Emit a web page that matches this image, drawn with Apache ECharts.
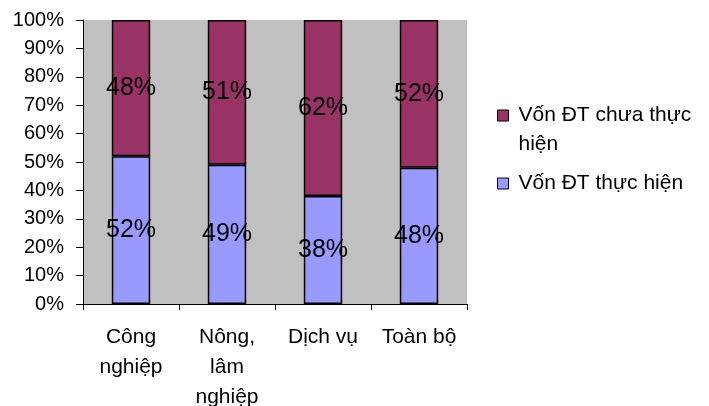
<!DOCTYPE html>
<html>
<head>
<meta charset="utf-8">
<script src="https://cdn.jsdelivr.net/npm/echarts@6/dist/echarts.min.js"></script>
<style>
  html, body { margin: 0; padding: 0; background: #fff; }
  #chart { width: 709px; height: 406px; }
</style>
</head>
<body>
<div id="chart"></div>
<script>
// Sectors and the share of investment capital (%) in each
const categories = ['Công\nnghiệp', 'Nông,\nlâm\nnghiệp', 'Dịch vụ', 'Toàn bộ'];
const implemented = [52, 49, 38, 48];      // Vốn ĐT thực hiện
const notImplemented = [48, 51, 62, 52];   // Vốn ĐT chưa thực hiện
const yTicks = [0, 10, 20, 30, 40, 50, 60, 70, 80, 90, 100];

const FONT = '"Liberation Sans", Arial, sans-serif';

const chart = echarts.init(document.getElementById('chart'), null, { renderer: 'canvas' });

const barLabel = {
  show: true,
  position: 'inside',
  color: '#000',
  fontSize: 25,
  fontFamily: FONT,
  formatter: p => p.value + '%'
};

const legendMarker = { borderColor: '#000', borderWidth: 1 };

chart.setOption({
  animation: false,
  backgroundColor: '#fff',
  grid: {
    left: 83, right: 242, top: 20, bottom: 102,
    outerBoundsMode: 'none',
    containLabel: false,
    show: true, backgroundColor: '#C0C0C0', borderWidth: 0
  },
  legend: {
    orient: 'vertical',
    left: 497,
    top: 72,
    padding: 0,
    itemWidth: 11,
    itemHeight: 11,
    itemGap: 10,
    icon: 'rect',
    textStyle: {
      fontSize: 21, fontFamily: FONT, color: '#000', lineHeight: 29,
      rich: {
        t: { fontSize: 21, fontFamily: FONT, color: '#000', lineHeight: 29, padding: [0, 0, 0, 5] }
      }
    },
    data: [
      { name: 'Vốn ĐT chưa thực hiện', itemStyle: legendMarker },
      { name: 'Vốn ĐT thực hiện', itemStyle: legendMarker }
    ],
    // the long entry wraps; a leading blank line keeps its marker beside the first text line
    formatter: name => name === 'Vốn ĐT chưa thực hiện'
      ? '{t|}\n{t|Vốn ĐT chưa thực}\n{t|hiện}'
      : '{t|' + name + '}'
  },
  xAxis: {
    type: 'category',
    data: categories,
    axisLine: { show: true, lineStyle: { color: '#000', width: 1 } },
    axisTick: { show: true, length: 6, alignWithLabel: false, lineStyle: { color: '#000' } },
    axisLabel: {
      interval: 0, margin: 18,
      fontSize: 21, fontFamily: FONT, color: '#000', lineHeight: 30
    },
    splitLine: { show: false }
  },
  yAxis: {
    type: 'value',
    min: 0, max: 100, interval: 10,
    axisLine: { show: true, lineStyle: { color: '#000', width: 1 } },
    axisTick: { show: true, inside: false, length: 7, lineStyle: { color: '#000' } },
    axisLabel: {
      margin: 19,
      fontSize: 20, fontFamily: FONT, color: '#000',
      formatter: v => (yTicks.indexOf(v) >= 0 ? v + '%' : '')
    },
    splitLine: { show: false }
  },
  series: [
    {
      name: 'Vốn ĐT thực hiện',
      type: 'bar',
      stack: 'total',
      barWidth: '40%',
      data: implemented,
      itemStyle: { color: '#9999FF', borderColor: '#000', borderWidth: 1.5 },
      label: barLabel
    },
    {
      name: 'Vốn ĐT chưa thực hiện',
      type: 'bar',
      stack: 'total',
      barWidth: '40%',
      data: notImplemented,
      itemStyle: { color: '#993366', borderColor: '#000', borderWidth: 1.5 },
      label: barLabel
    }
  ]
});
</script>
</body>
</html>
